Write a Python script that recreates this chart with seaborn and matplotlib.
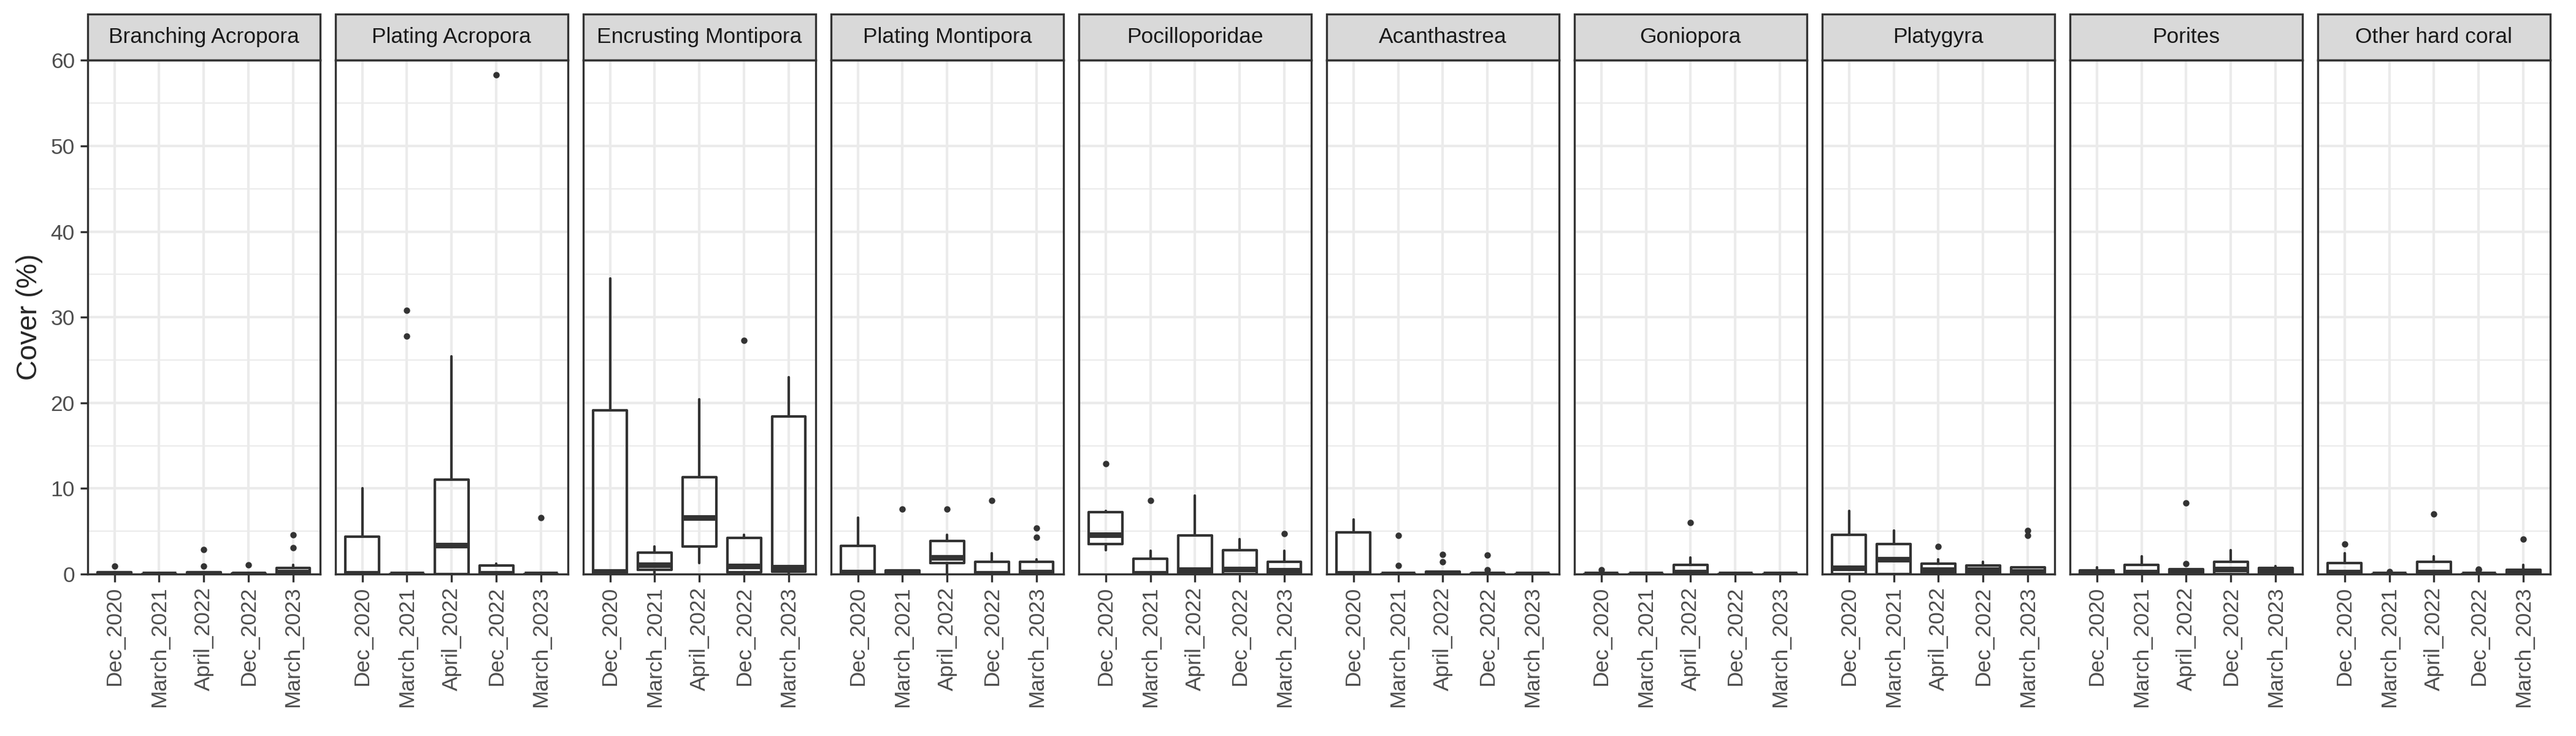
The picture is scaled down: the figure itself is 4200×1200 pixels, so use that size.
import matplotlib
matplotlib.use("Agg")
import matplotlib.pyplot as plt
from matplotlib.patches import Rectangle
import seaborn as sns

# -----------------------------
# Dados
# -----------------------------
taxa = ["Branching Acropora", "Plating Acropora", "Encrusting Montipora",
        "Plating Montipora", "Pocilloporidae", "Acanthastrea", "Goniopora",
        "Platygyra", "Porites", "Other hard coral"]
surveys = ["Dec_2020", "March_2021", "April_2022", "Dec_2022", "March_2023"]

whislo = [[0, 0, 0, 0, 0], [0, 0, 0, 0, 0], [0, 0, 1.3, 0, 0],
          [0, 0, 0, 0, 0], [2.8, 0, 0, 0, 0], [0, 0, 0, 0, 0],
          [0, 0, 0, 0, 0], [0, 0, 0, 0, 0], [0, 0, 0, 0, 0], [0, 0, 0, 0, 0]]
q1 = [[0, 0, 0, 0, 0], [0, 0, 0, 0, 0], [0, 0.5, 3.2, 0.2, 0.3],
      [0, 0, 1.3, 0, 0], [3.5, 0, 0, 0, 0], [0, 0, 0, 0, 0],
      [0, 0, 0, 0, 0], [0, 0, 0, 0, 0], [0, 0, 0, 0, 0], [0, 0, 0, 0, 0]]
med = [[0.05, 0, 0.05, 0.03, 0.2], [0.1, 0, 3.4, 0.1, 0], [0.3, 1.1, 6.6, 0.9, 0.8],
       [0.2, 0.2, 1.9, 0.1, 0.2], [4.6, 0.1, 0.5, 0.6, 0.4], [0.1, 0, 0.05, 0, 0],
       [0, 0, 0.2, 0, 0], [0.7, 1.7, 0.5, 0.5, 0.3], [0.2, 0.2, 0.3, 0.6, 0.4],
       [0.2, 0, 0.2, 0, 0.3]]
q3 = [[0.2, 0, 0.2, 0.1, 0.7], [4.4, 0, 11.0, 1.0, 0], [19.1, 2.5, 11.3, 4.2, 18.4],
      [3.3, 0.4, 3.9, 1.4, 1.4], [7.2, 1.8, 4.5, 2.8, 1.4], [4.9, 0, 0.3, 0.1, 0],
      [0, 0, 1.1, 0, 0], [4.6, 3.5, 1.2, 1.0, 0.8], [0.4, 1.1, 0.6, 1.4, 0.7],
      [1.3, 0, 1.4, 0, 0.5]]
whishi = [[0.2, 0, 0.2, 0.1, 1.1], [10.0, 0, 25.4, 1.2, 0], [34.5, 3.2, 20.4, 4.6, 23.0],
          [6.6, 0.4, 4.6, 2.4, 1.7], [7.4, 2.7, 9.2, 4.1, 2.7], [6.4, 0, 0.3, 0.1, 0],
          [0, 0, 1.9, 0, 0], [7.4, 5.1, 1.7, 1.4, 0.8], [0.8, 2.1, 0.6, 2.8, 0.9],
          [2.4, 0, 2.1, 0, 1.1]]
fliers = [[[0.9], [], [0.9, 2.9], [1.1], [3.1, 4.6]],
          [[], [27.8, 30.8], [], [58.3], [6.6]],
          [[], [], [], [27.3], []],
          [[], [7.6], [7.6], [8.6], [4.3, 5.4]],
          [[12.9], [8.6], [], [], [4.7]],
          [[], [1.0, 4.5], [1.4, 2.3], [0.5, 2.2], []],
          [[0.5], [], [6.0], [], []],
          [[], [], [3.2], [], [4.5, 5.1]],
          [[], [], [1.2, 8.3], [], []],
          [[3.5], [0.3], [7.0], [0.5, 0.6], [4.1]]]

# -----------------------------
# Estilo
# -----------------------------
sns.set_theme(style="whitegrid")
plt.rcParams["font.family"] = ["Liberation Sans", "DejaVu Sans"]
dark = "#333333"

fig, axes = plt.subplots(1, len(taxa), figsize=(14, 4), dpi=300, sharey=True)
fig.subplots_adjust(left=0.034, right=0.99, top=0.918, bottom=0.22, wspace=0.066)

for i, ax in enumerate(axes):
    stats = []
    for j, s in enumerate(surveys):
        stats.append(dict(label=s, whislo=whislo[i][j], q1=q1[i][j], med=med[i][j],
                          q3=q3[i][j], whishi=whishi[i][j], fliers=fliers[i][j]))
    ax.bxp(stats, positions=range(1, 6), widths=0.75, showcaps=False,
           boxprops=dict(color=dark, linewidth=1.0),
           whiskerprops=dict(color=dark, linewidth=1.0),
           medianprops=dict(color=dark, linewidth=2.2, solid_capstyle="butt"),
           flierprops=dict(marker="o", markersize=1.5, markerfacecolor=dark,
                           markeredgecolor=dark, linestyle="none"))
    ax.set_xlim(0.4, 5.6)
    ax.set_ylim(0, 60)
    ax.set_yticks(range(0, 61, 10))
    ax.set_yticks(range(5, 60, 10), minor=True)
    ax.set_xticks(range(1, 6))
    ax.set_xticklabels(surveys, rotation=90)
    ax.grid(True, which="major", color="#EBEBEB", linewidth=1.0)
    ax.grid(True, which="minor", axis="y", color="#EBEBEB", linewidth=0.5)
    ax.set_axisbelow(True)
    for sp in ax.spines.values():
        sp.set_visible(True)
        sp.set_color(dark)
        sp.set_linewidth(0.8)
    ax.tick_params(axis="both", which="major", length=3, width=0.8, color=dark,
                   labelsize=8.5, labelcolor="#4D4D4D", pad=2, bottom=True, left=(i == 0))
    ax.tick_params(axis="y", which="minor", length=0)
    # faixa do título (estilo ggplot)
    ax.add_patch(Rectangle((0, 1.0), 1, 0.09, transform=ax.transAxes, clip_on=False,
                           facecolor="#D9D9D9", edgecolor=dark, linewidth=0.8))
    ax.text(0.5, 1.045, taxa[i], transform=ax.transAxes, ha="center", va="center",
            fontsize=8.5, color="#1A1A1A")

axes[0].set_ylabel("Cover (%)", fontsize=11, labelpad=3)
fig.savefig("out.png", dpi=300)
